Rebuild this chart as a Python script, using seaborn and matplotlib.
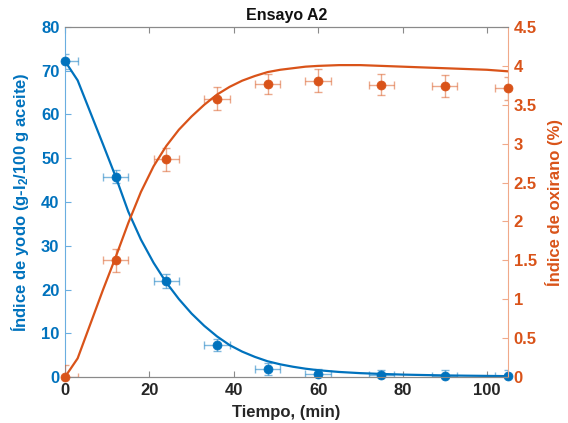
import matplotlib
matplotlib.use("Agg")
import matplotlib.pyplot as plt
import matplotlib.ticker as mticker
import numpy as np
import pandas as pd
import seaborn as sns

# Measured samples
tiempo = [0, 12, 24, 36, 48, 60, 75, 90, 105]
yodo = [72.2, 45.8, 22.0, 7.3, 1.8, 0.6, 0.4, 0.3, 0.2]
yodo_err = [1.7, 1.5, 1.6, 1.4, 1.3, 1.3, 1.3, 1.3, 1.3]
oxirano = [0.0, 1.5, 2.8, 3.58, 3.77, 3.81, 3.76, 3.74, 3.71]
oxirano_err = [0.15, 0.15, 0.15, 0.15, 0.13, 0.15, 0.14, 0.14, 0.15]
tiempo_err = [3, 3, 3, 3, 3, 3, 3, 3, 3]

# Fitted model curves
t_modelo = [0, 3, 6, 9, 12, 15, 18, 21, 24, 27, 30, 33, 36, 39, 42, 45, 48,
            51, 54, 57, 60, 65, 70, 75, 80, 85, 90, 95, 100, 105]
yodo_modelo = [72.2, 67.8, 60.5, 53.2, 45.8, 37.8, 31.4, 26.1, 21.6, 17.8,
               14.5, 11.7, 9.3, 7.3, 5.8, 4.6, 3.6, 2.9, 2.35, 1.9, 1.55, 1.15,
               0.88, 0.7, 0.55, 0.45, 0.36, 0.3, 0.25, 0.2]
oxirano_modelo = [0.0, 0.24, 0.68, 1.12, 1.54, 1.98, 2.38, 2.71, 2.97, 3.18,
                  3.35, 3.50, 3.63, 3.73, 3.81, 3.87, 3.92, 3.95, 3.97, 3.99,
                  4.0, 4.01, 4.01, 4.0, 3.99, 3.98, 3.97, 3.96, 3.95, 3.93]

xticks = [0, 20, 40, 60, 80, 100]
yticks_izq = [0, 10, 20, 30, 40, 50, 60, 70, 80]
yticks_der = [0, 0.5, 1, 1.5, 2, 2.5, 3, 3.5, 4, 4.5]

AZUL = "#0072BD"
NARANJA = "#D95319"
GRIS = "#262626"

sns.set_theme(style="white")
plt.rcParams["font.family"] = ["Liberation Sans", "DejaVu Sans"]
plt.rcParams["font.weight"] = "bold"
plt.rcParams["mathtext.fontset"] = "custom"
plt.rcParams["mathtext.rm"] = "Liberation Sans:bold"
plt.rcParams["mathtext.it"] = "Liberation Sans:bold"
plt.rcParams["mathtext.bf"] = "Liberation Sans:bold"

medidas = pd.DataFrame({"t": tiempo, "yodo": yodo, "oxirano": oxirano})
modelo = pd.DataFrame({"t": t_modelo, "yodo": yodo_modelo, "oxirano": oxirano_modelo})

fig = plt.figure(figsize=(5.68, 4.23), dpi=100)
ax = fig.add_axes([65 / 568, 46 / 423, 443 / 568, 350 / 423])
ax2 = ax.twinx()

# Iodine value (left axis)
ax.errorbar(tiempo, yodo, yerr=yodo_err, xerr=tiempo_err, fmt="none",
            ecolor=AZUL, alpha=0.5, elinewidth=1.0, capsize=3, capthick=1.0)
sns.lineplot(data=modelo, x="t", y="yodo", ax=ax, color=AZUL, linewidth=1.6,
             sort=False)
sns.scatterplot(data=medidas, x="t", y="yodo", ax=ax, color=AZUL, s=42,
                edgecolor=AZUL, linewidth=0.5, zorder=5, clip_on=False)

# Oxirane index (right axis)
ax2.errorbar(tiempo, oxirano, yerr=oxirano_err, xerr=tiempo_err, fmt="none",
             ecolor=NARANJA, alpha=0.5, elinewidth=1.0, capsize=3, capthick=1.0)
sns.lineplot(data=modelo, x="t", y="oxirano", ax=ax2, color=NARANJA,
             linewidth=1.6, sort=False)
sns.scatterplot(data=medidas, x="t", y="oxirano", ax=ax2, color=NARANJA, s=42,
                edgecolor=NARANJA, linewidth=0.5, zorder=5, clip_on=False)

ax.set_xlim(0, 105)
ax.set_ylim(0, 80)
ax2.set_ylim(0, 4.5)
ax.set_xticks(xticks)
ax.set_yticks(yticks_izq)
ax2.set_yticks(yticks_der)
ax2.yaxis.set_major_formatter(mticker.FormatStrFormatter("%g"))

ax.set_title("Ensayo A2", fontsize=11.5, fontweight="bold", color="#111111", pad=5)
ax.set_xlabel("Tiempo, (min)", fontsize=12, fontweight="bold", color=GRIS,
              labelpad=5)
ax.set_ylabel(r"Índice de yodo (g-I$_{2}$/100 g aceite)", fontsize=12,
              fontweight="bold", color=AZUL, labelpad=7)
ax2.set_ylabel("Índice de oxirano (%)", fontsize=12, fontweight="bold",
               color=NARANJA, labelpad=6)

for a in (ax, ax2):
    for side in ("top", "bottom"):
        a.spines[side].set_color("#8a8a8a")
        a.spines[side].set_linewidth(0.8)
    a.spines["left"].set_visible(False)
    a.spines["right"].set_visible(False)
ax.spines["left"].set_visible(True)
ax.spines["left"].set_color("#6aaee0")
ax.spines["left"].set_linewidth(0.8)
ax2.spines["right"].set_visible(True)
ax2.spines["right"].set_color("#f0a98a")
ax2.spines["right"].set_linewidth(0.8)

ax.tick_params(axis="x", direction="in", top=True, bottom=True, length=4,
               width=0.8, color="#8a8a8a", labelcolor=GRIS, labelsize=12,
               pad=4)
ax.tick_params(axis="y", direction="in", left=True, right=False, length=4,
               width=0.8, color="#6aaee0", labelcolor=AZUL, labelsize=12,
               pad=4)
ax2.tick_params(axis="y", direction="in", right=True, left=False, length=4,
                width=0.8, color="#f0a98a", labelcolor=NARANJA, labelsize=12,
                pad=4)
for lbl in ax.get_xticklabels() + ax.get_yticklabels() + ax2.get_yticklabels():
    lbl.set_fontweight("bold")

ax.grid(False)
ax2.grid(False)

fig.savefig("out.png", dpi=100)
